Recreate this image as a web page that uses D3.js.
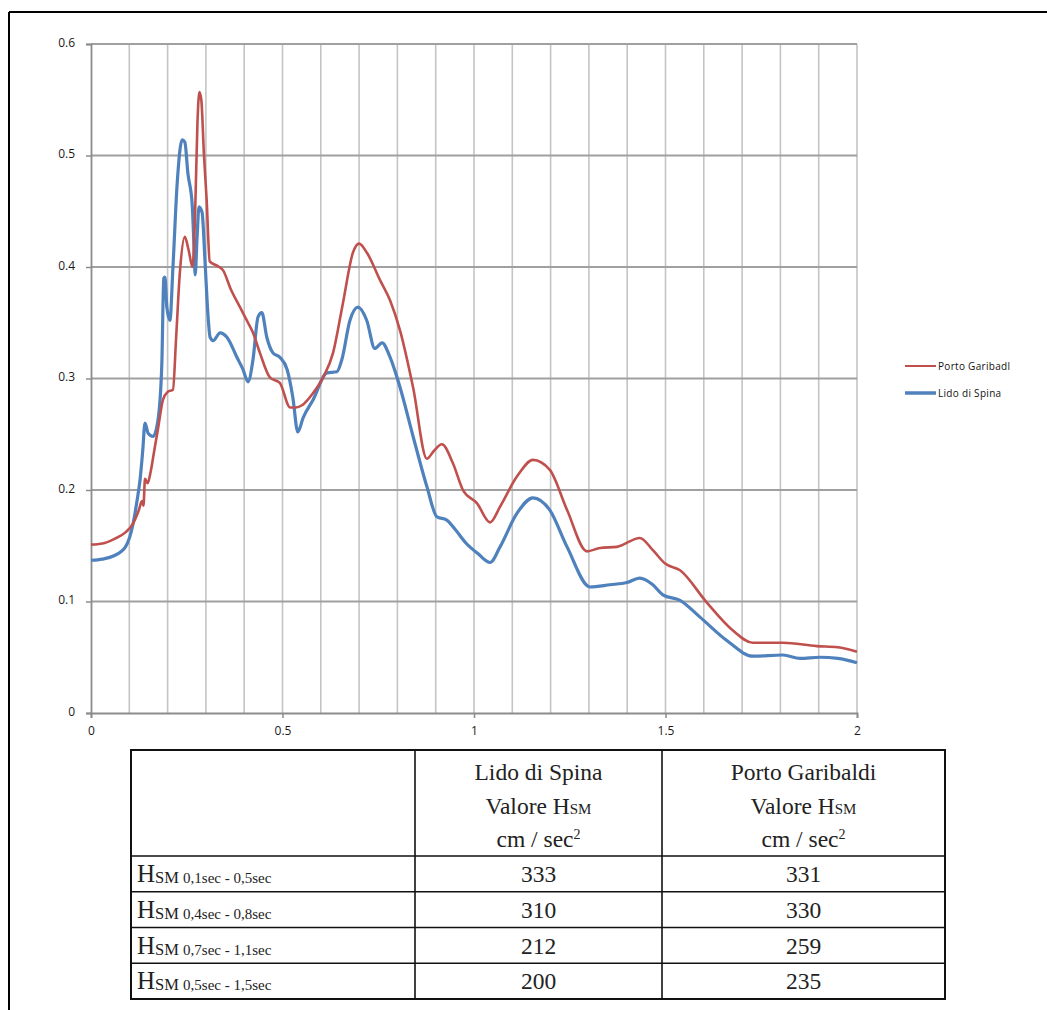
<!DOCTYPE html>
<html>
<head>
<meta charset="utf-8">
<script src="https://cdn.jsdelivr.net/npm/d3@7"></script>
<style>
  html, body { margin: 0; padding: 0; background: #fff; }
  svg { display: block; }
</style>
</head>
<body>
<svg id="chart" width="1047" height="1010"></svg>
<script>
// Spectral acceleration curves (period in s, value in g)
const garibaldiT = [0, 0.03, 0.06, 0.09, 0.11, 0.125, 0.133, 0.137, 0.141, 0.148, 0.155, 0.165, 0.175, 0.188, 0.2, 0.214, 0.222, 0.232, 0.245, 0.255, 0.265, 0.272, 0.278, 0.283, 0.288, 0.295, 0.302, 0.31, 0.33, 0.345, 0.365, 0.389, 0.41, 0.423, 0.441, 0.467, 0.493, 0.52, 0.535, 0.551, 0.58, 0.606, 0.632, 0.658, 0.684, 0.70, 0.72, 0.755, 0.781, 0.807, 0.841, 0.877, 0.895, 0.916, 0.945, 0.971, 1.008, 1.042, 1.068, 1.112, 1.154, 1.198, 1.243, 1.295, 1.329, 1.373, 1.433, 1.467, 1.499, 1.538, 1.608, 1.676, 1.728, 1.807, 1.895, 1.95, 2.0];
const garibaldiSa = [0.151, 0.152, 0.156, 0.162, 0.170, 0.182, 0.190, 0.186, 0.210, 0.206, 0.215, 0.235, 0.255, 0.281, 0.288, 0.290, 0.335, 0.395, 0.427, 0.415, 0.400, 0.450, 0.530, 0.557, 0.550, 0.500, 0.460, 0.405, 0.401, 0.397, 0.380, 0.364, 0.350, 0.341, 0.323, 0.301, 0.296, 0.274, 0.274, 0.276, 0.287, 0.301, 0.323, 0.368, 0.413, 0.421, 0.413, 0.388, 0.370, 0.343, 0.292, 0.228, 0.235, 0.241, 0.224, 0.200, 0.188, 0.171, 0.185, 0.212, 0.227, 0.218, 0.182, 0.145, 0.148, 0.149, 0.157, 0.146, 0.134, 0.128, 0.099, 0.074, 0.063, 0.063, 0.060, 0.059, 0.055];

const spinaT = [0, 0.03, 0.06, 0.09, 0.11, 0.12, 0.128, 0.135, 0.141, 0.149, 0.162, 0.175, 0.185, 0.19, 0.193, 0.198, 0.206, 0.214, 0.225, 0.238, 0.245, 0.253, 0.264, 0.269, 0.272, 0.277, 0.282, 0.29, 0.298, 0.305, 0.311, 0.319, 0.337, 0.355, 0.381, 0.397, 0.41, 0.423, 0.436, 0.446, 0.459, 0.475, 0.493, 0.512, 0.527, 0.54, 0.554, 0.58, 0.616, 0.642, 0.655, 0.676, 0.697, 0.72, 0.741, 0.76, 0.781, 0.807, 0.841, 0.877, 0.903, 0.929, 0.95, 0.98, 1.01, 1.042, 1.068, 1.112, 1.154, 1.198, 1.243, 1.303, 1.355, 1.399, 1.433, 1.467, 1.493, 1.538, 1.59, 1.66, 1.728, 1.807, 1.851, 1.903, 1.95, 2.0];
const spinaSa = [0.137, 0.138, 0.141, 0.149, 0.170, 0.190, 0.209, 0.235, 0.260, 0.251, 0.248, 0.263, 0.314, 0.390, 0.391, 0.364, 0.352, 0.400, 0.475, 0.514, 0.512, 0.484, 0.457, 0.418, 0.393, 0.427, 0.454, 0.449, 0.403, 0.359, 0.337, 0.334, 0.341, 0.337, 0.319, 0.308, 0.297, 0.317, 0.355, 0.359, 0.337, 0.323, 0.319, 0.308, 0.283, 0.252, 0.265, 0.281, 0.305, 0.306, 0.317, 0.352, 0.364, 0.352, 0.327, 0.332, 0.319, 0.292, 0.248, 0.203, 0.176, 0.173, 0.165, 0.152, 0.143, 0.135, 0.149, 0.179, 0.193, 0.182, 0.149, 0.113, 0.115, 0.117, 0.121, 0.115, 0.106, 0.101, 0.086, 0.065, 0.051, 0.052, 0.049, 0.050, 0.049, 0.045];

const seriesNames = ["Porto Garibadl", "Lido di Spina"];
const seriesColors = ["#C0504D", "#4F81BD"];

const xTickValues = [0, 0.5, 1, 1.5, 2];
const xTickLabels = ["0", "0.5", "1", "1.5", "2"];
const yTickValues = [0, 0.1, 0.2, 0.3, 0.4, 0.5, 0.6];
const yTickLabels = ["0", "0.1", "0.2", "0.3", "0.4", "0.5", "0.6"];

// Summary table: H_SM values (cm/sec^2)
const tableColumns = ["Lido di Spina", "Porto Garibaldi"];
const rowRanges = ["0,1sec - 0,5sec", "0,4sec - 0,8sec", "0,7sec - 1,1sec", "0,5sec - 1,5sec"];
const spinaHsm = [333, 310, 212, 200];
const garibaldiHsm = [331, 330, 259, 235];

const svg = d3.select("#chart");

// page frame
svg.append("line").attr("x1", 9).attr("x2", 1047).attr("y1", 12).attr("y2", 12)
  .attr("stroke", "#000").attr("stroke-width", 2.2);
svg.append("line").attr("x1", 9).attr("x2", 9).attr("y1", 12).attr("y2", 1010)
  .attr("stroke", "#000").attr("stroke-width", 2);

const plot = { left: 91, right: 857, top: 44, bottom: 713 };
const x = d3.scaleLinear().domain([0, 2]).range([plot.left, plot.right]);
const y = d3.scaleLinear().domain([0, 0.6]).range([plot.bottom, plot.top]);

const g = svg.append("g");

// vertical grid every 0.1 s
g.append("g").selectAll("line").data(d3.range(1, 21).map(i => i / 10))
  .join("line")
  .attr("x1", d => x(d)).attr("x2", d => x(d))
  .attr("y1", plot.top).attr("y2", plot.bottom)
  .attr("stroke", "#c4c4c4").attr("stroke-width", 1.6);

// horizontal grid
g.append("g").selectAll("line").data(yTickValues.slice(1))
  .join("line")
  .attr("x1", plot.left).attr("x2", plot.right)
  .attr("y1", d => y(d)).attr("y2", d => y(d))
  .attr("stroke", "#a0a0a0").attr("stroke-width", 1.8);

// axes
const xAxis = d3.axisBottom(x).tickValues(xTickValues).tickSize(5)
  .tickFormat((d, i) => xTickLabels[i]);
const yAxis = d3.axisLeft(y).tickValues(yTickValues).tickSize(5)
  .tickFormat((d, i) => yTickLabels[i]);

const gx = g.append("g").attr("transform", `translate(0,${plot.bottom})`).call(xAxis);
const gy = g.append("g").attr("transform", `translate(${plot.left},0)`).call(yAxis);
[gx, gy].forEach(a => {
  a.attr("font-size", null).attr("font-family", null);
  a.select(".domain").attr("stroke", "#8c8c8c").attr("stroke-width", 1.8);
  a.selectAll(".tick line").attr("stroke", "#8c8c8c").attr("stroke-width", 1.5);
  a.selectAll(".tick text").attr("fill", "#1a1a1a")
    .style("font-family", "'Open Sans', 'Liberation Sans', sans-serif").style("font-size", "12px");
});
gx.selectAll(".tick text").attr("dy", "1.15em");
gy.selectAll(".tick text").attr("dx", "-8").attr("dy", "0.2em");

// curves
const line = d3.line().x(d => x(d[0])).y(d => y(d[1])).curve(d3.curveMonotoneX);
const garibaldi = garibaldiT.map((t, i) => [t, garibaldiSa[i]]);
const spina = spinaT.map((t, i) => [t, spinaSa[i]]);

g.append("path").datum(spina).attr("d", line)
  .attr("fill", "none").attr("stroke", seriesColors[1]).attr("stroke-width", 3.2)
  .attr("stroke-linejoin", "round");
g.append("path").datum(garibaldi).attr("d", line)
  .attr("fill", "none").attr("stroke", seriesColors[0]).attr("stroke-width", 2.6)
  .attr("stroke-linejoin", "round");

// legend
const legend = svg.append("g").attr("transform", "translate(905,366)");
seriesNames.forEach((name, i) => {
  const row = legend.append("g").attr("transform", `translate(0,${i * 27})`);
  row.append("line").attr("x1", 0).attr("x2", 31).attr("y1", 0).attr("y2", 0)
    .attr("stroke", seriesColors[i]).attr("stroke-width", i === 0 ? 2 : 3.5);
  row.append("text").attr("x", 33).attr("y", 3.5).text(name)
    .attr("font-family", "'Open Sans', 'Liberation Sans', sans-serif")
    .attr("font-size", 10).attr("fill", "#111").attr("letter-spacing", 0.3);
});

// table
const serif = "'Liberation Serif', 'DejaVu Serif', serif";
const tbl = { left: 131, right: 945, top: 750, headerBottom: 856, bottom: 999 };
const colEdges = [tbl.left, 415, 662, tbl.right];
const rowEdges = d3.range(rowRanges.length + 1)
  .map(i => tbl.headerBottom + i * (tbl.bottom - tbl.headerBottom) / rowRanges.length);

const t = svg.append("g");
t.append("rect").attr("x", tbl.left).attr("y", tbl.top)
  .attr("width", tbl.right - tbl.left).attr("height", tbl.bottom - tbl.top)
  .attr("fill", "none").attr("stroke", "#111").attr("stroke-width", 2);
t.selectAll("line.col").data(colEdges.slice(1, -1)).join("line")
  .attr("x1", d => d).attr("x2", d => d).attr("y1", tbl.top).attr("y2", tbl.bottom)
  .attr("stroke", "#111").attr("stroke-width", 1.6);
t.selectAll("line.row").data([tbl.headerBottom].concat(rowEdges.slice(1, -1))).join("line")
  .attr("x1", tbl.left).attr("x2", tbl.right).attr("y1", d => d).attr("y2", d => d)
  .attr("stroke", "#111").attr("stroke-width", 1.6);

tableColumns.forEach((name, i) => {
  const cx = (colEdges[i + 1] + colEdges[i + 2]) / 2;
  t.append("text").attr("x", cx).attr("y", 780).attr("text-anchor", "middle")
    .attr("font-family", serif).attr("font-size", 23.5).attr("fill", "#222").text(name);
  const v = t.append("text").attr("x", cx).attr("y", 814).attr("text-anchor", "middle")
    .attr("font-family", serif).attr("font-size", 23.5).attr("fill", "#222");
  v.append("tspan").text("Valore H");
  v.append("tspan").attr("font-size", 15).text("SM");
  const u = t.append("text").attr("x", cx).attr("y", 847).attr("text-anchor", "middle")
    .attr("font-family", serif).attr("font-size", 23.5).attr("fill", "#222");
  u.append("tspan").text("cm / sec");
  u.append("tspan").attr("font-size", 14).attr("dy", -8).text("2");
});

rowRanges.forEach((r, i) => {
  const base = rowEdges[i] + 26;
  const lab = t.append("text").attr("x", 137).attr("y", base)
    .attr("font-family", serif).attr("fill", "#222");
  lab.append("tspan").attr("font-size", 25).text("H");
  lab.append("tspan").attr("font-size", 16.5).attr("dy", 1).text("SM ");
  lab.append("tspan").attr("font-size", 15).text(r);
  [spinaHsm[i], garibaldiHsm[i]].forEach((val, j) => {
    const cx = (colEdges[j + 1] + colEdges[j + 2]) / 2;
    t.append("text").attr("x", cx).attr("y", base).attr("text-anchor", "middle")
      .attr("font-family", serif).attr("font-size", 23.5).attr("fill", "#222").text(val);
  });
});
</script>
</body>
</html>
